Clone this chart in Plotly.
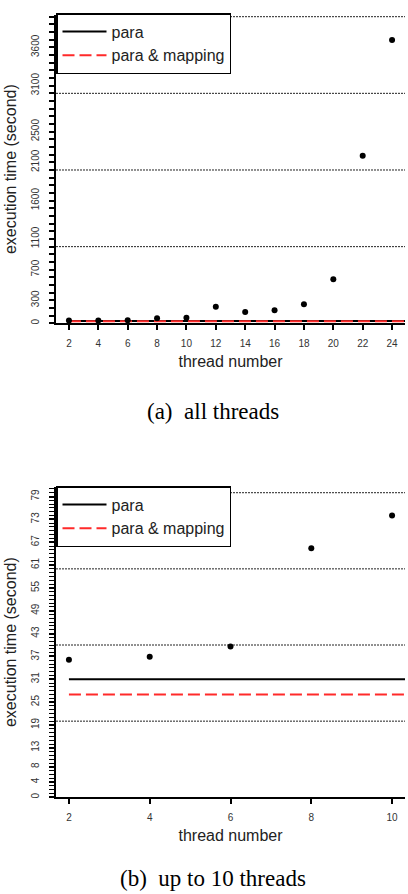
import plotly.graph_objects as go

# ---------------- data ----------------
threads_all = [2, 4, 6, 8, 10, 12, 14, 16, 18, 20, 22, 24]
time_all = [36, 37, 40, 65, 74, 217, 147, 170, 248, 574, 2186, 3695]

threads_10 = [2, 4, 6, 8, 10]
time_10 = [36.1, 36.9, 39.6, 65.4, 74.0]

baseline_threads = [2, 32]
para_time = [31, 31]
para_mapping_time = [27, 27]

xticks_all = [2, 4, 6, 8, 10, 12, 14, 16, 18, 20, 22, 24]
yticks_all = [0, 300, 700, 1100, 1600, 2100, 2500, 3100, 3600]
yminor_all = list(range(0, 4001, 100))
grid_all = [1000, 2000, 3000, 4000]

xticks_10 = [2, 4, 6, 8, 10]
yticks_10 = [0, 4, 8, 13, 19, 25, 31, 37, 43, 49, 55, 61, 67, 73, 79]
yminor_10 = list(range(0, 82))
grid_10 = [20, 40, 60, 80]

W, H = 408, 894
SANS = "Liberation Sans"
SERIF = "Liberation Serif"


def py(px):
    return 1 - px / H


fig = go.Figure()

# ---- top panel ----
fig.add_trace(go.Scatter(x=baseline_threads, y=para_time, mode="lines", name="para",
                         line=dict(color="black", width=2), xaxis="x", yaxis="y",
                         legend="legend"))
fig.add_trace(go.Scatter(x=baseline_threads, y=para_mapping_time, mode="lines",
                         name="para & mapping",
                         line=dict(color="#ff2a2a", width=2, dash="12px,5px"),
                         xaxis="x", yaxis="y", legend="legend"))
fig.add_trace(go.Scatter(x=threads_all, y=time_all, mode="markers", showlegend=False,
                         marker=dict(color="black", size=6), xaxis="x", yaxis="y"))

# ---- bottom panel ----
fig.add_trace(go.Scatter(x=baseline_threads, y=para_time, mode="lines", name="para",
                         line=dict(color="black", width=2), xaxis="x2", yaxis="y2",
                         legend="legend2"))
fig.add_trace(go.Scatter(x=baseline_threads, y=para_mapping_time, mode="lines",
                         name="para & mapping",
                         line=dict(color="#ff2a2a", width=2, dash="12px,5px"),
                         xaxis="x2", yaxis="y2", legend="legend2"))
fig.add_trace(go.Scatter(x=threads_10, y=time_10, mode="markers", showlegend=False,
                         marker=dict(color="black", size=6), xaxis="x2", yaxis="y2"))

# grid (dotted horizontal lines)
for g in grid_all:
    fig.add_shape(type="line", xref="x domain", yref="y", x0=0, x1=1, y0=g, y1=g,
                  line=dict(color="#222", width=1, dash="2px,1px"), layer="below")
for g in grid_10:
    fig.add_shape(type="line", xref="x2 domain", yref="y2", x0=0, x1=1, y0=g, y1=g,
                  line=dict(color="#222", width=1, dash="2px,1px"), layer="below")

xdom = [56 / W, 405 / W]
tickfont = dict(family=SANS, size=10, color="#333")
titlefont = dict(family=SANS, size=16, color="#222")

common_x = dict(showline=True, linecolor="black", linewidth=2, ticks="outside",
                ticklen=5, tickwidth=1.5, tickcolor="black", showgrid=False,
                zeroline=False, tickfont=tickfont, ticklabelstandoff=5,
                automargin=False)
common_y = dict(showline=True, linecolor="black", linewidth=2, ticks="outside",
                ticklen=5, tickwidth=1.5, tickcolor="black", showgrid=False,
                zeroline=False, tickfont=tickfont, tickangle=-90,
                ticklabelstandoff=6, automargin=False)

fig.update_layout(
    width=W, height=H,
    margin=dict(l=0, r=0, t=0, b=0),
    paper_bgcolor="white", plot_bgcolor="white",
    xaxis=dict(domain=xdom, anchor="y", range=[1.12, 24.88], tickmode="array",
               tickvals=xticks_all, title=dict(text="thread number", font=titlefont,
                                                standoff=8), **common_x),
    yaxis=dict(domain=[py(323.3), py(15)], anchor="x", range=[0, 4022],
               tickmode="array", tickvals=yticks_all,
               minor=dict(tickvals=yminor_all, ticks="outside", ticklen=5,
                          tickwidth=1.5, tickcolor="black"),
               title=dict(text="execution time (second)", font=titlefont, standoff=9),
               **common_y),
    xaxis2=dict(domain=xdom, anchor="y2", range=[1.68, 10.32], tickmode="array",
                tickvals=xticks_10, title=dict(text="thread number", font=titlefont,
                                                standoff=8), **common_x),
    yaxis2=dict(domain=[py(797.3), py(487)], anchor="x2", range=[0, 81.5],
                tickmode="array", tickvals=yticks_10,
                minor=dict(tickvals=yminor_10, ticks="outside", ticklen=5,
                           tickwidth=1.2, tickcolor="black"),
                title=dict(text="execution time (second)", font=titlefont, standoff=9),
                **common_y),
    legend=dict(x=56 / W, y=py(13), xanchor="left", yanchor="top", bgcolor="white",
                bordercolor="black", borderwidth=1.5,
                font=dict(family=SANS, size=16, color="#222"), itemwidth=44),
    legend2=dict(x=56 / W, y=py(486), xanchor="left", yanchor="top", bgcolor="white",
                 bordercolor="black", borderwidth=1.5,
                 font=dict(family=SANS, size=16, color="#222"), itemwidth=44),
    showlegend=True,
    annotations=[
        dict(text="(a)\u2002all threads", x=213 / W, y=py(411), xref="paper", yref="paper",
             showarrow=False, xanchor="center", yanchor="middle",
             font=dict(family=SERIF, size=23, color="black")),
        dict(text="(b)\u2002up to 10 threads", x=213 / W, y=py(878), xref="paper",
             yref="paper", showarrow=False, xanchor="center", yanchor="middle",
             font=dict(family=SERIF, size=23, color="black")),
    ],
)

fig.write_html("out.html")
